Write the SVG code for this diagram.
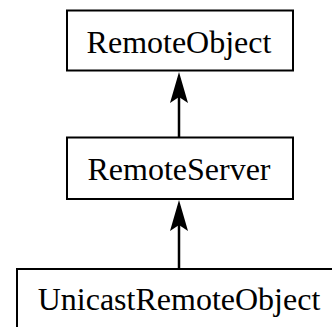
<svg xmlns="http://www.w3.org/2000/svg" width="332" height="327" viewBox="0 0 332 327">
  <style>
    .box { fill: #ffffff; stroke: #000000; stroke-width: 2; }
    .label { font-family: "Liberation Serif", "Times New Roman", serif; font-size: 32px; fill: #000000; text-anchor: middle; }
    .edge { stroke: #000000; stroke-width: 2.5; fill: none; marker-end: url(#arrow); }
  </style>
  <defs>
    <marker id="arrow" markerUnits="userSpaceOnUse" viewBox="0 0 31 18" refX="25" refY="9" markerWidth="31" markerHeight="18" orient="auto">
      <path d="M0,0 L31,9 L0,18 L6,9 z" fill="#000000"/>
    </marker>
  </defs>
  <rect width="332" height="327" fill="#ffffff"/>
  <g id="connectors">
    <line class="edge" x1="179" y1="137" x2="179" y2="78"/>
    <line class="edge" x1="179" y1="269" x2="179" y2="206"/>
  </g>
  <g id="RemoteObject">
    <rect class="box" x="67" y="10.5" width="226" height="60"/>
    <text class="label" x="179" y="53">RemoteObject</text>
  </g>
  <g id="RemoteServer">
    <rect class="box" x="67" y="137.5" width="226" height="61.5"/>
    <text class="label" x="179" y="180">RemoteServer</text>
  </g>
  <g id="UnicastRemoteObject">
    <rect class="box" x="17" y="269" width="324" height="62"/>
    <text class="label" x="179" y="309.5">UnicastRemoteObject</text>
  </g>
</svg>
